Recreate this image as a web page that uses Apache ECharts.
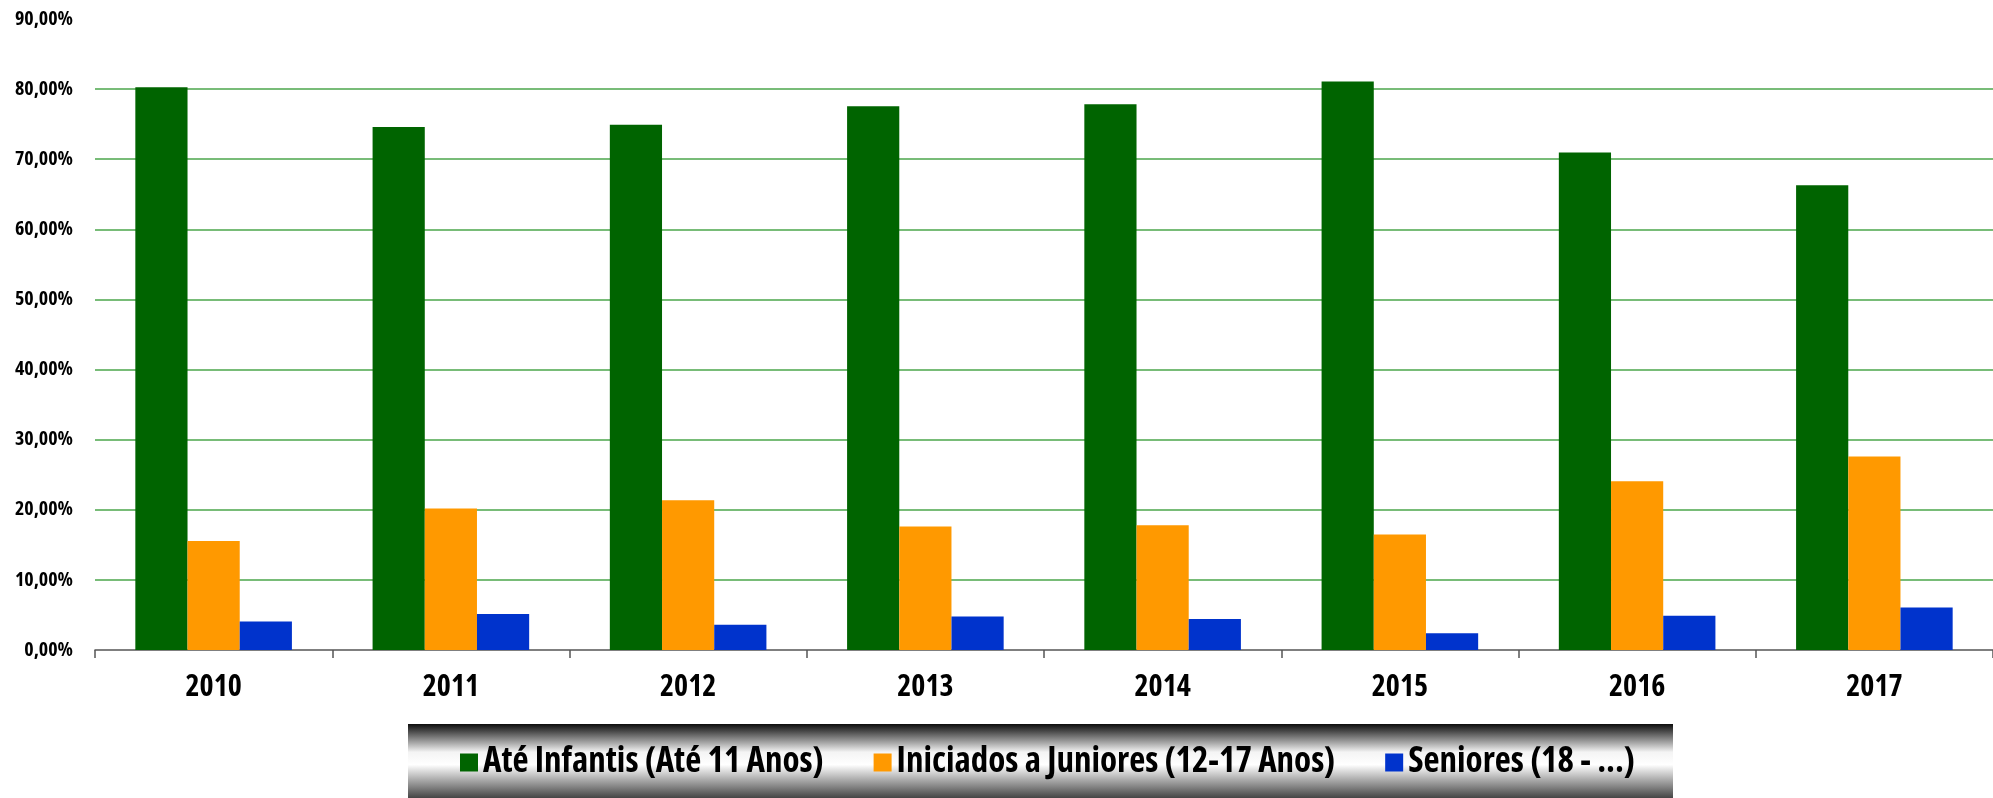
<!DOCTYPE html>
<html>
<head>
<meta charset="utf-8">
<script src="https://cdn.jsdelivr.net/npm/echarts@6/dist/echarts.min.js"></script>
<style>
html,body{margin:0;padding:0;background:#fff;}
#c{width:1993px;height:798px;}
</style>
</head>
<body>
<div id="c"></div>
<script>
const categories = ['2010','2011','2012','2013','2014','2015','2016','2017'];
const seriesNames = ['Até Infantis (Até 11 Anos)','Iniciados a Juniores (12-17 Anos)','Seniores (18 - ...)'];
const ateInfantis = [80.28, 74.58, 74.93, 77.55, 77.84, 81.10, 70.96, 66.30];
const iniciadosJuniores = [15.53, 20.19, 21.35, 17.63, 17.80, 16.46, 24.06, 27.60];
const seniores = [4.07, 5.12, 3.61, 4.77, 4.42, 2.39, 4.90, 6.05];
const yMin = 0, yMax = 90, yStep = 10;

const FONT = '"Open Sans", "Liberation Sans", sans-serif';
const WEIGHT = 'bold condensed';
const colors = ['#006400', '#FF9900', '#0033CC'];
const gridColors = ['rgba(0,0,0,0)'];
for (let v = yMin + yStep; v < yMax; v += yStep) gridColors.push('#78bc78');
gridColors.push('rgba(0,0,0,0)');

const chart = echarts.init(document.getElementById('c'), null, {renderer: 'canvas'});
const data = [ateInfantis, iniciadosJuniores, seniores];
chart.setOption({
  animation: false,
  color: colors,
  graphic: [{
    type: 'rect', z: 0, silent: true,
    shape: {x: 408, y: 724, width: 1265, height: 74},
    style: {
      fill: {
        type: 'linear', x: 0, y: 0, x2: 0, y2: 1,
        colorStops: [
          {offset: 0, color: '#0d0d0d'},
          {offset: 0.38, color: '#f4f4f4'},
          {offset: 0.55, color: '#ffffff'},
          {offset: 1, color: '#454545'}
        ]
      }
    }
  }],
  legend: {
    z: 10,
    left: 460, top: 745, padding: 0,
    itemWidth: 18, itemHeight: 18, itemGap: 50,
    icon: 'rect',
    textStyle: {fontFamily: FONT, fontWeight: WEIGHT, fontSize: 35, color: '#000'},
    data: seriesNames
  },
  grid: {left: 95, top: 19, width: 1906, height: 631, containLabel: false},
  xAxis: {
    type: 'category',
    data: categories,
    axisLine: {show: true, lineStyle: {color: '#555', width: 1.5}},
    axisTick: {show: true, length: 8, lineStyle: {color: '#555', width: 1.5}},
    axisLabel: {fontFamily: FONT, fontWeight: WEIGHT, fontSize: 30, color: '#000', margin: 22}
  },
  yAxis: {
    type: 'value',
    min: yMin, max: yMax, interval: yStep,
    axisLine: {show: false},
    axisTick: {show: false},
    axisLabel: {
      fontFamily: FONT, fontWeight: WEIGHT, fontSize: 20, color: '#000', margin: 22,
      formatter: v => v.toFixed(2).replace('.', ',') + '%'
    },
    splitLine: {show: true, lineStyle: {color: gridColors, width: 2}}
  },
  series: seriesNames.map((n, i) => ({
    name: n,
    type: 'bar',
    data: data[i],
    barGap: '0%',
    barCategoryGap: '34%',
    itemStyle: {color: colors[i]}
  }))
});
</script>
</body>
</html>
